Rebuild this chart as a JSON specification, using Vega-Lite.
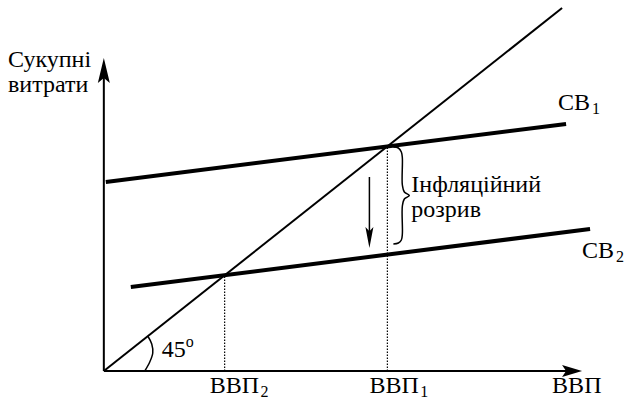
{
  "$schema": "https://vega.github.io/schema/vega-lite/v6.json",
  "width": 624,
  "height": 400,
  "autosize": {"type": "fit", "contains": "padding"},
  "padding": 0,
  "background": "white",
  "config": {"view": {"stroke": null}},
  "encoding": {
    "x": {"field": "x", "type": "quantitative", "scale": {"domain": [-104, 520], "zero": false, "nice": false}, "axis": null},
    "y": {"field": "y", "type": "quantitative", "scale": {"domain": [-29, 371], "zero": false, "nice": false}, "axis": null}
  },
  "layer": [
    {
      "data": {"values": [
        {"g": "yaxis", "x": 0, "y": 0}, {"g": "yaxis", "x": 0, "y": 300},
        {"g": "xaxis", "x": 0, "y": 0}, {"g": "xaxis", "x": 470, "y": 0}
      ]},
      "mark": {"type": "line", "color": "black", "strokeWidth": 2},
      "encoding": {"detail": {"field": "g"}}
    },
    {
      "data": {"values": [{"x": 0, "y": 0}, {"x": 459, "y": 363}]},
      "mark": {"type": "line", "color": "black", "strokeWidth": 2},
      "encoding": {}
    },
    {
      "data": {"values": [
        {"g": "CB1", "x": 2, "y": 189}, {"g": "CB1", "x": 463, "y": 247},
        {"g": "CB2", "x": 27, "y": 84}, {"g": "CB2", "x": 487, "y": 142}
      ]},
      "mark": {"type": "line", "color": "black", "strokeWidth": 4},
      "encoding": {"detail": {"field": "g"}}
    },
    {
      "data": {"values": [
        {"g": "d2", "x": 121, "y": 0}, {"g": "d2", "x": 121, "y": 96},
        {"g": "d1", "x": 284, "y": 0}, {"g": "d1", "x": 284, "y": 224}
      ]},
      "mark": {"type": "line", "color": "black", "strokeWidth": 1.2, "strokeDash": [1.5, 1.5]},
      "encoding": {"detail": {"field": "g"}}
    },
    {
      "data": {"values": [{"x": 266, "y": 194}, {"x": 266, "y": 132}]},
      "mark": {"type": "line", "color": "black", "strokeWidth": 1.5},
      "encoding": {}
    },
    {
      "data": {"values": [
        {"o": 1, "x": 290, "y": 224}, {"o": 2, "x": 295, "y": 223}, {"o": 3, "x": 298, "y": 219},
        {"o": 4, "x": 299, "y": 213}, {"o": 5, "x": 299, "y": 186}, {"o": 6, "x": 301, "y": 179},
        {"o": 7, "x": 306, "y": 175.5}, {"o": 8, "x": 301, "y": 172}, {"o": 9, "x": 299, "y": 165},
        {"o": 10, "x": 299, "y": 137}, {"o": 11, "x": 298, "y": 131}, {"o": 12, "x": 295, "y": 128},
        {"o": 13, "x": 290, "y": 127}
      ]},
      "mark": {"type": "line", "color": "black", "strokeWidth": 1.5, "interpolate": "catmull-rom"},
      "encoding": {"order": {"field": "o"}}
    },
    {
      "data": {"values": [
        {"o": 1, "x": 41, "y": 0}, {"o": 2, "x": 46, "y": 9}, {"o": 3, "x": 49, "y": 18},
        {"o": 4, "x": 48, "y": 27}, {"o": 5, "x": 44, "y": 35}
      ]},
      "mark": {"type": "line", "color": "black", "strokeWidth": 1.5, "interpolate": "catmull-rom"},
      "encoding": {"order": {"field": "o"}}
    },
    {
      "data": {"values": [{"x": 0, "y": 313}]},
      "mark": {"type": "point", "filled": true, "color": "black", "opacity": 1, "strokeWidth": 0, "size": 625, "angle": 0, "shape": "M0,0L0.48,2L0,1.6L-0.48,2Z"}
    },
    {
      "data": {"values": [{"x": 479, "y": 0}]},
      "mark": {"type": "point", "filled": true, "color": "black", "opacity": 1, "strokeWidth": 0, "size": 400, "angle": 90, "shape": "M0,0L0.6,2L0,1.6L-0.6,2Z"}
    },
    {
      "data": {"values": [{"x": 266, "y": 123}]},
      "mark": {"type": "point", "filled": true, "color": "black", "opacity": 1, "strokeWidth": 0, "size": 441, "angle": 180, "shape": "M0,0L0.38,2L0,1.6L-0.38,2Z"}
    },
    {
      "data": {"values": [
        {"t": "Сукупні", "x": -96, "y": 304},
        {"t": "витрати", "x": -96, "y": 279},
        {"t": "СВ", "x": 455, "y": 261},
        {"t": "СВ", "x": 479, "y": 113},
        {"t": "ВВП", "x": 106, "y": -22},
        {"t": "ВВП", "x": 266, "y": -22},
        {"t": "ВВП", "x": 449, "y": -22},
        {"t": "45", "x": 58, "y": 14},
        {"t": "Інфляційний", "x": 308, "y": 179},
        {"t": "розрив", "x": 308, "y": 154}
      ]},
      "mark": {"type": "text", "align": "left", "baseline": "alphabetic", "font": "Liberation Serif", "fontSize": 24, "color": "black"},
      "encoding": {"text": {"field": "t"}}
    },
    {
      "data": {"values": [
        {"t": "1", "x": 489, "y": 257},
        {"t": "2", "x": 513, "y": 109},
        {"t": "2", "x": 157, "y": -26},
        {"t": "1", "x": 317, "y": -26},
        {"t": "o", "x": 82, "y": 24}
      ]},
      "mark": {"type": "text", "align": "left", "baseline": "alphabetic", "font": "Liberation Serif", "fontSize": 16, "color": "black"},
      "encoding": {"text": {"field": "t"}}
    }
  ]
}
